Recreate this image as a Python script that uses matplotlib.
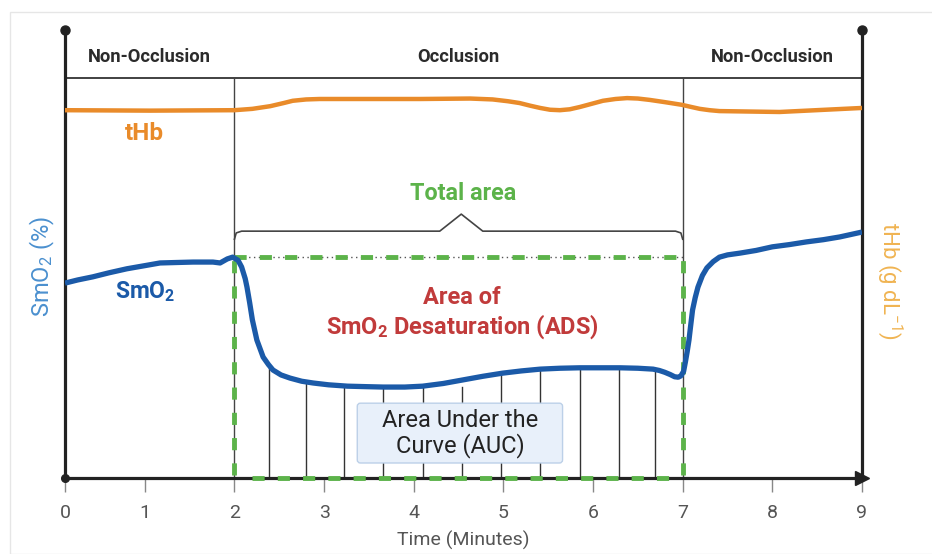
import matplotlib
matplotlib.use("Agg")
import matplotlib.pyplot as plt
from matplotlib.patches import FancyBboxPatch, Rectangle

plt.rcParams["font.family"] = ["Roboto", "DejaVu Sans"]
plt.rcParams["mathtext.fontset"] = "custom"
plt.rcParams["mathtext.rm"] = "Roboto"
plt.rcParams["mathtext.bf"] = "Roboto:bold"
plt.rcParams["mathtext.default"] = "regular"

# the drawn time axis starts a bit right of t=0
X_START = 0.11
X_END = 9.0
OCC_START, OCC_END = 2.0, 7.0

XTICKS = [X_START, 1, 2, 3, 4, 5, 6, 7, 8, 9]
XTICK_LABELS = ["0", "1", "2", "3", "4", "5", "6", "7", "8", "9"]

# SmO2 trace (arbitrary units, 0-100 axis)
SMO2_T = [0.11, 0.25, 0.42, 0.60, 0.80, 1.00, 1.17, 1.35, 1.54, 1.76, 1.84,
          1.92, 1.98, 2.04, 2.08, 2.12, 2.14, 2.17, 2.20, 2.25, 2.32, 2.38,
          2.43, 2.52, 2.62, 2.75, 2.88, 3.05, 3.26, 3.45, 3.66, 3.90, 4.10,
          4.33, 4.55, 4.77, 4.99, 5.20, 5.41, 5.63, 5.85, 6.08, 6.30, 6.50,
          6.67, 6.74, 6.80, 6.86, 6.91, 6.95, 6.98, 7.01, 7.03, 7.05, 7.07,
          7.09, 7.11, 7.14, 7.17, 7.22, 7.27, 7.34, 7.41, 7.50, 7.64, 7.82,
          8.00, 8.19, 8.38, 8.57, 8.75, 9.00]
SMO2 = [43.5, 44.2, 44.9, 45.8, 46.7, 47.4, 48.0, 48.1, 48.2, 48.2, 48.0,
        48.9, 49.3, 48.6, 47.1, 44.5, 42.6, 39.1, 35.3, 30.8, 27.0, 25.3,
        24.1, 23.0, 22.3, 21.6, 21.2, 20.8, 20.5, 20.4, 20.3, 20.3, 20.5,
        21.1, 21.9, 22.7, 23.4, 23.9, 24.3, 24.5, 24.6, 24.6, 24.6, 24.5,
        24.3, 24.0, 23.6, 23.1, 22.6, 22.5, 22.8, 23.8, 25.9, 28.2, 30.8,
        34.2, 37.5, 40.3, 42.6, 45.2, 46.9, 48.3, 49.3, 49.8, 50.2, 50.8,
        51.6, 52.1, 52.7, 53.2, 53.8, 54.9]

# tHb trace
THB_T = [0.11, 1.06, 2.00, 2.20, 2.40, 2.55, 2.65, 2.80, 2.95, 3.51, 4.07,
         4.63, 4.88, 5.05, 5.18, 5.30, 5.41, 5.52, 5.63, 5.74, 5.85, 5.98,
         6.11, 6.25, 6.38, 6.50, 6.63, 6.80, 6.99, 7.10, 7.19, 7.30, 7.41,
         8.08, 9.00]
THB = [82.1, 82.0, 82.1, 82.4, 83.0, 83.7, 84.2, 84.5, 84.6, 84.6, 84.6,
       84.7, 84.5, 84.1, 83.7, 83.1, 82.6, 82.2, 82.1, 82.3, 82.8, 83.5,
       84.2, 84.6, 84.8, 84.7, 84.4, 83.9, 83.3, 82.8, 82.4, 82.1, 81.9,
       81.7, 82.6]

# vertical AUC slices and where they meet the curve
AUC_T = [2.39, 2.80, 3.22, 3.66, 4.10, 4.54, 4.97, 5.41, 5.85, 6.29, 6.69]
AUC_TOP = [25.2, 21.4, 20.5, 20.3, 20.5, 20.3, 23.4, 24.3, 24.6, 24.6, 24.3]

PHASES = ["Non-Occlusion", "Occlusion", "Non-Occlusion"]
PHASE_BOUNDS = [(X_START, OCC_START), (OCC_START, OCC_END), (OCC_END, X_END)]

HEADER_Y = 89.3
ADS_TOP = 49.3
BRACE_Y = 55.1
BRACE_TIP = 58.9

BLUE = "#1b5aa8"
ORANGE = "#e98b2a"
GREEN = "#5cb34a"
RED = "#c13b3b"
DARK = "#222222"

fig = plt.figure(figsize=(9.32, 5.54), dpi=100)
fig.patches.append(Rectangle((10 / 932, 0), 1.0, 1 - 12 / 554,
                             transform=fig.transFigure, fill=False,
                             edgecolor="#e6e6e6", lw=1.0))
ax = fig.add_axes([65 / 932, 76 / 554, 797 / 932, 448 / 554])
ax.set_xlim(X_START, X_END)
ax.set_ylim(0, 100)

# phase header bar
ax.plot([X_START, X_END], [HEADER_Y, HEADER_Y], color="#333333", lw=1.3, zorder=2)
for xb in (OCC_START, OCC_END):
    ax.plot([xb, xb], [0, HEADER_Y], color="#444444", lw=1.0, zorder=2)
for name, (a, b) in zip(PHASES, PHASE_BOUNDS):
    ax.text((a + b) / 2, 94.0, name, ha="center", va="center", fontsize=13.2,
            fontweight="bold", color="#2b2b2b")

# AUC slices
for t, top in zip(AUC_T, AUC_TOP):
    ax.plot([t, t], [0, top], color="#333333", lw=1.0, zorder=2)

# total-area rectangle
dash = dict(color=GREEN, lw=3.5, dashes=(2.5, 2.7), solid_capstyle="butt",
            dash_capstyle="butt", zorder=3, clip_on=False)
ax.plot([OCC_START, OCC_END], [ADS_TOP, ADS_TOP], color="#555555", lw=1.0,
        dashes=(1, 2.5), zorder=2)
ax.plot([OCC_START, OCC_END], [ADS_TOP, ADS_TOP], **dash)
ax.plot([OCC_START, OCC_START], [0.6, ADS_TOP], **dash)
ax.plot([OCC_END, OCC_END], [0.6, ADS_TOP], **dash)
ax.plot([OCC_START + 0.2, OCC_END - 0.08], [0, 0], **dash)

# brace over the occlusion window
mid = 4.53
bx = [OCC_START, OCC_START + 0.02, OCC_START + 0.08, mid - 0.24, mid,
      mid + 0.24, OCC_END - 0.08, OCC_END - 0.02, OCC_END]
by = [BRACE_Y - 1.8, BRACE_Y - 0.4, BRACE_Y, BRACE_Y, BRACE_TIP, BRACE_Y,
      BRACE_Y, BRACE_Y - 0.4, BRACE_Y - 1.8]
ax.plot(bx, by, color="#444444", lw=1.2, zorder=2, solid_joinstyle="round")

# traces
ax.plot(THB_T, THB, color=ORANGE, lw=3.2, zorder=4, solid_capstyle="butt",
        solid_joinstyle="round")
ax.plot(SMO2_T, SMO2, color=BLUE, lw=3.8, zorder=5, solid_capstyle="butt",
        solid_joinstyle="round")

# labels
ax.text(1.0, 77.0, "tHb", ha="center", va="center", fontsize=17.5,
        fontweight="bold", color=ORANGE)
ax.text(1.01, 41.7, "SmO$_2$", ha="center", va="center", fontsize=16.5,
        fontweight="bold", color=BLUE)
ax.text(4.55, 63.6, "Total area", ha="center", va="center", fontsize=16.8,
        fontweight="bold", color=GREEN)
ax.text(4.54, 40.4, "Area of", ha="center", va="center", fontsize=17,
        fontweight="bold", color=RED)
ax.text(4.54, 33.7, "SmO$_2$ Desaturation (ADS)", ha="center", va="center",
        fontsize=17, fontweight="bold", color=RED)

box = FancyBboxPatch((3.37, 3.35), 2.29, 13.35,
                     boxstyle="round,pad=0,rounding_size=0.035",
                     mutation_aspect=20, facecolor="#e8f0fa",
                     edgecolor="#bcd0e8", lw=1.0, zorder=6)
ax.add_patch(box)
ax.text(4.52, 10.0, "Area Under the\nCurve (AUC)", ha="center", va="center",
        fontsize=17, color="#222222", linespacing=1.05, zorder=7)

# axes frame: plain lines with dots and arrow
ax.spines["top"].set_visible(False)
for side in ("left", "right", "bottom"):
    ax.spines[side].set_linewidth(2.3)
    ax.spines[side].set_color(DARK)
ax.plot([X_START, X_END], [100, 100], "o", color=DARK, ms=6.5, clip_on=False, zorder=8)
ax.plot([X_START], [0], "o", color=DARK, ms=5.5, clip_on=False, zorder=8)
ax.plot([X_END], [0], marker=">", color=DARK, ms=10, clip_on=False, zorder=8)

ax.set_xticks(XTICKS)
ax.set_xticklabels(XTICK_LABELS)
ax.set_yticks([])
ax.tick_params(axis="x", length=10, width=1.0, color="#888888", pad=9,
               labelsize=14, labelcolor="#555555")
ax.set_xlabel("Time (Minutes)", fontsize=14, color="#555555", labelpad=6)

fig.text(42 / 932, 1 - 267 / 554, "SmO$_2$ (%)", rotation=90, ha="center",
         va="center", fontsize=17, color="#4b90cf")
fig.text(890 / 932, 1 - 281 / 554, "tHb (g dL$^{\\mathregular{-1}}$)",
         rotation=270, ha="center", va="center", fontsize=16, color="#f0b452")

fig.savefig("out.png", dpi=100)
